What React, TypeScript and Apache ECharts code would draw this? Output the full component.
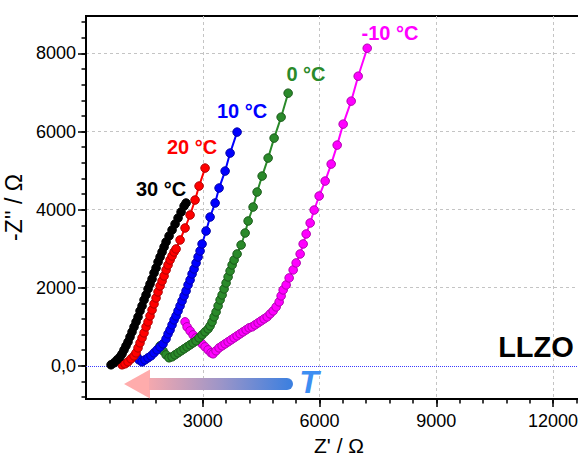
import React, { useEffect, useRef } from 'react';
import * as echarts from 'echarts';

// Nyquist data: Z' (re) and -Z'' (im), in Ohm
const re30 = [643, 720, 797, 874, 926, 977, 1028, 1080, 1131, 1183, 1234, 1286, 1337, 1388, 1440, 1491, 1543, 1594, 1645, 1697, 1748, 1800, 1851, 1903, 1954, 2006, 2057, 2134, 2211, 2288, 2365, 2442, 2520, 2571];
const im30 = [26, 77, 153, 230, 307, 409, 512, 614, 742, 870, 998, 1126, 1253, 1407, 1535, 1688, 1816, 1970, 2098, 2225, 2379, 2507, 2660, 2788, 2916, 3044, 3172, 3325, 3479, 3632, 3786, 3939, 4093, 4170];

const re20 = [926, 1003, 1080, 1157, 1234, 1286, 1337, 1388, 1440, 1491, 1543, 1594, 1645, 1697, 1748, 1800, 1851, 1903, 1954, 2006, 2057, 2108, 2160, 2211, 2263, 2314, 2417, 2545, 2674, 2802, 2905, 3059];
const im20 = [26, 51, 102, 179, 256, 333, 460, 588, 716, 844, 998, 1126, 1279, 1432, 1586, 1739, 1893, 2046, 2174, 2302, 2456, 2584, 2711, 2814, 2916, 2993, 3223, 3530, 3863, 4246, 4604, 5065];

const re10 = [1311, 1363, 1440, 1517, 1594, 1671, 1748, 1825, 1903, 1980, 2057, 2108, 2160, 2211, 2263, 2314, 2365, 2417, 2468, 2520, 2571, 2622, 2674, 2725, 2777, 2828, 2880, 2931, 2982, 3085, 3188, 3317, 3419, 3574, 3702, 3882];
const im10 = [230, 153, 102, 153, 205, 256, 333, 409, 486, 563, 691, 819, 921, 1049, 1177, 1279, 1407, 1535, 1663, 1791, 1919, 2072, 2200, 2353, 2481, 2635, 2788, 2942, 3121, 3453, 3811, 4170, 4553, 4988, 5449, 5986];

const re0 = [1903, 1980, 2057, 2134, 2211, 2288, 2365, 2442, 2520, 2597, 2674, 2751, 2828, 2905, 2982, 3059, 3137, 3188, 3239, 3291, 3342, 3394, 3445, 3497, 3548, 3599, 3651, 3702, 3754, 3805, 3882, 3985, 4088, 4165, 4293, 4396, 4525, 4679, 4833, 5013, 5193];
const im0 = [512, 384, 281, 205, 230, 281, 333, 384, 435, 486, 537, 588, 640, 716, 793, 870, 946, 1023, 1126, 1253, 1381, 1535, 1688, 1816, 1970, 2123, 2277, 2430, 2584, 2711, 2865, 3095, 3402, 3709, 4067, 4451, 4860, 5321, 5832, 6369, 6983];

const reM10 = [2545, 2597, 2674, 2751, 2828, 2905, 2982, 3059, 3137, 3214, 3265, 3342, 3419, 3497, 3574, 3651, 3728, 3805, 3882, 3959, 4036, 4114, 4191, 4268, 4345, 4422, 4499, 4576, 4654, 4731, 4808, 4885, 4962, 5013, 5065, 5142, 5219, 5322, 5399, 5502, 5579, 5656, 5759, 5862, 5990, 6144, 6299, 6453, 6607, 6813, 6993, 7225];
const imM10 = [1126, 998, 895, 793, 716, 640, 563, 486, 409, 333, 307, 384, 460, 512, 563, 614, 665, 716, 767, 819, 870, 921, 972, 998, 1049, 1100, 1151, 1202, 1253, 1330, 1407, 1509, 1637, 1791, 1944, 2072, 2251, 2456, 2635, 2865, 3121, 3377, 3658, 3990, 4349, 4732, 5167, 5653, 6190, 6779, 7418, 8134];

const seriesNames = ['-10 °C', '0 °C', '10 °C', '20 °C', '30 °C'];
const seriesRe = [reM10, re0, re10, re20, re30];
const seriesIm = [imM10, im0, im10, im20, im30];
const seriesColors = ['#ff00ff', '#2a8a2a', '#0000ff', '#ff0000', '#000000'];
const seriesBorders = ['#b000b0', '#1a5a1a', '#0000a8', '#b00000', '#000000'];

const xMajor = [3000, 6000, 9000, 12000];
const xMinor = [600, 1200, 1800, 2400, 3000, 3600, 4200, 4800, 5400, 6000, 6600, 7200, 7800, 8400, 9000, 9600, 10200, 10800, 11400, 12000, 12600];
const yMajor = [0, 2000, 4000, 6000, 8000];
const yGrid = [2000, 4000, 6000, 8000];
const yMinor = [-800, -400, 0, 400, 800, 1200, 1600, 2000, 2400, 2800, 3200, 3600, 4000, 4400, 4800, 5200, 5600, 6000, 6400, 6800, 7200, 7600, 8000, 8400, 8800];

const SANS = "'Liberation Sans', Arial, sans-serif";

export default function App() {
  const ref = useRef<HTMLDivElement>(null);
  useEffect(() => {
    if (!ref.current) return;
    const chart = echarts.init(ref.current, undefined, { renderer: 'svg' });
    const axisLineStyle = { color: '#000', width: 2 };
    const tickLineStyle = { color: '#000', width: 1.5 };
    const labelStyle = { color: '#000', fontSize: 18, fontFamily: SANS };
    const xBase = { type: 'value', min: 0, max: 13000, position: 'bottom' };
    const yBase = { type: 'value', min: -850, max: 8960, position: 'left' };
    chart.setOption({
      animation: false,
      grid: {
        left: 86, top: 16, right: -14, bottom: 57,
        outerBoundsMode: 'none', containLabel: false,
        show: true, borderColor: '#000', borderWidth: 2, backgroundColor: 'transparent',
      },
      xAxis: [
        {
          ...xBase,
          axisLine: { show: true, onZero: false, lineStyle: axisLineStyle },
          axisTick: { show: true, length: 8, lineStyle: tickLineStyle, customValues: xMajor },
          axisLabel: { ...labelStyle, margin: 13, customValues: xMajor, formatter: (v: number) => String(v) },
          splitLine: { show: true, lineStyle: { color: '#c4c4c4', type: [3, 3], width: 1 } },
          name: "Z' / Ω",
          nameLocation: 'middle',
          nameGap: 31,
          nameTextStyle: { color: '#000', fontSize: 21, fontFamily: SANS, lineHeight: 21 },
        },
        {
          ...xBase,
          axisLine: { show: false, onZero: false },
          axisTick: { show: true, length: 4.5, lineStyle: tickLineStyle, customValues: xMinor },
          axisLabel: { show: false },
          splitLine: { show: false },
        },
      ],
      yAxis: [
        {
          ...yBase,
          axisLine: { show: true, onZero: false, lineStyle: axisLineStyle },
          axisTick: { show: true, length: 8, lineStyle: tickLineStyle, customValues: yMajor },
          axisLabel: {
            ...labelStyle,
            margin: 10,
            customValues: yMajor,
            formatter: (v: number) => (v === 0 ? '0,0' : String(v)),
          },
          splitLine: { show: false },
          name: "-Z'' / Ω",
          nameLocation: 'middle',
          nameRotate: 90,
          nameGap: 48,
          nameTextStyle: { color: '#000', fontSize: 23, fontFamily: SANS },
        },
        {
          ...yBase,
          axisLine: { show: false, onZero: false },
          axisTick: { show: false, customValues: yGrid },
          axisLabel: { show: false },
          splitLine: { show: true, lineStyle: { color: '#c4c4c4', type: [3, 3], width: 1 } },
        },
        {
          ...yBase,
          axisLine: { show: false, onZero: false },
          axisTick: { show: true, length: 4.5, lineStyle: tickLineStyle, customValues: yMinor },
          axisLabel: { show: false },
          splitLine: { show: false },
        },
      ],
      series: seriesNames.map((name, i) => ({
        name,
        type: 'line',
        xAxisIndex: 0,
        yAxisIndex: 0,
        data: seriesRe[i].map((x, k) => [x, seriesIm[i][k]]),
        symbol: 'circle',
        symbolSize: 8.5,
        showSymbol: true,
        showAllSymbol: true,
        silent: true,
        lineStyle: { color: seriesColors[i], width: 2 },
        itemStyle: { color: seriesColors[i], borderColor: seriesBorders[i], borderWidth: 1 },
        z: 3 + i,
        markLine:
          i === 0
            ? {
                silent: true,
                symbol: ['none', 'none'],
                label: { show: false },
                lineStyle: { color: '#3a3aff', type: 'dotted', width: 1 },
                data: [{ yAxis: 0 }],
              }
            : undefined,
      })),
      graphic: [
        {
          type: 'polygon',
          shape: { points: [[124, 384], [150, 369.5], [150, 398.5]] },
          style: { fill: '#ffacac' },
          z: 10,
        },
        {
          type: 'rect',
          shape: { x: 149, y: 378, width: 144, height: 12, r: [0, 6, 6, 0] },
          style: {
            fill: new echarts.graphic.LinearGradient(0, 0, 1, 0, [
              { offset: 0, color: '#f4a8ae' },
              { offset: 0.5, color: '#9c95c8' },
              { offset: 1, color: '#3a7fe0' },
            ]),
          },
          z: 10,
        },
        {
          type: 'text',
          x: 309,
          y: 382,
          style: { text: 'T', fill: '#3d8ef2', font: "italic bold 32px 'Liberation Sans', Arial, sans-serif", align: 'center', verticalAlign: 'middle' },
          z: 10,
        },
        {
          type: 'text',
          x: 536,
          y: 347,
          style: { text: 'LLZO', fill: '#000', font: "bold 29px 'Liberation Sans', Arial, sans-serif", align: 'center', verticalAlign: 'middle' },
          z: 10,
        },
        ...[
          { t: '30 °C', x: 161, y: 189, c: '#000000' },
          { t: '20 °C', x: 192, y: 147, c: '#ff0000' },
          { t: '10 °C', x: 242, y: 111, c: '#0000ff' },
          { t: '0 °C', x: 306, y: 74, c: '#2a8a2a' },
          { t: '-10 °C', x: 390, y: 33, c: '#ff00ff' },
        ].map((l) => ({
          type: 'text',
          x: l.x,
          y: l.y,
          style: { text: l.t, fill: l.c, font: "bold 20px 'Liberation Sans', Arial, sans-serif", align: 'center', verticalAlign: 'middle' },
          z: 10,
        })),
      ],
    });
    return () => chart.dispose();
  }, []);
  return <div ref={ref} style={{ position: 'absolute', left: 0, top: 0, width: 578, height: 456 }} />;
}
